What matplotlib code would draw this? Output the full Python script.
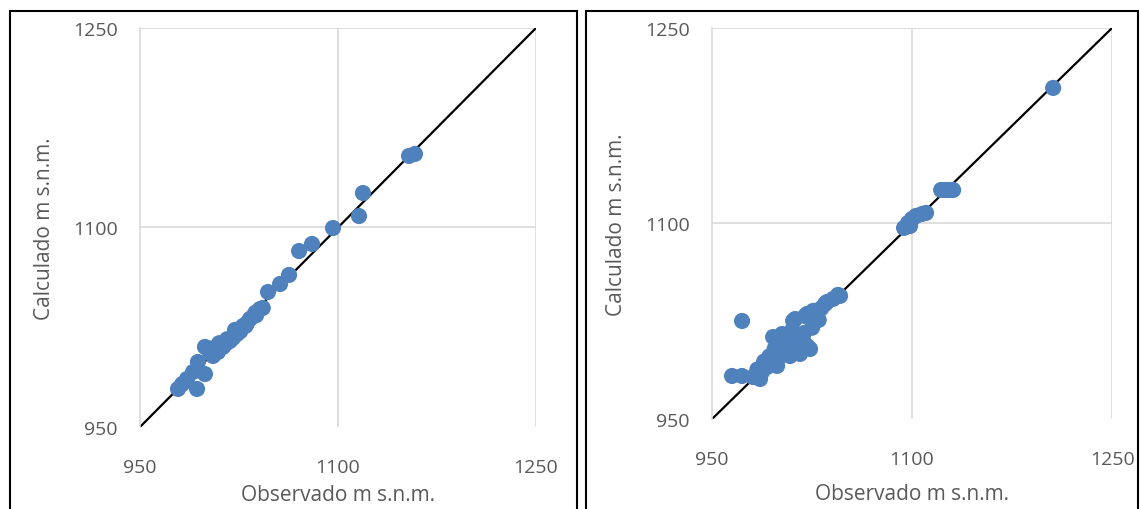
import matplotlib.pyplot as plt
from matplotlib.patches import Rectangle

# left panel: observed vs calculated (m s.n.m.)
obs_a = [978.8, 982.0, 985.6, 990.2, 993.2, 993.9, 999.2, 999.2, 1003.0, 1005.3,
         1007.0, 1009.1, 1011.0, 1012.9, 1015.5, 1018.2, 1020.5, 1023.5, 1026.0,
         1028.0, 1031.0, 1033.3, 1036.0, 1037.5, 1040.9, 1043.0, 1047.0, 1056.1,
         1062.9, 1070.5, 1080.3, 1096.2, 1115.9, 1118.9, 1153.8, 1158.3,
         1004.0, 1010.0, 1016.0, 1022.0, 1030.0, 1038.0]
calc_a = [978.6, 982.3, 986.1, 991.4, 978.6, 998.9, 989.8, 1010.2, 1006.0, 1003.4,
          1008.0, 1006.4, 1011.5, 1010.2, 1013.0, 1014.7, 1017.0, 1019.9, 1022.0,
          1025.9, 1028.0, 1031.2, 1033.5, 1036.0, 1038.7, 1039.5, 1051.5, 1057.5,
          1064.3, 1082.3, 1087.6, 1099.6, 1108.6, 1125.9, 1153.8, 1155.3,
          1009.0, 1013.0, 1016.0, 1023.0, 1026.0, 1034.0]

# right panel
obs_b = [965.0, 972.5, 972.5, 980.8, 986.0, 987.5, 991.3, 995.0, 995.8, 998.8,
         1001.0, 1002.5, 1006.3, 1008.5, 1010.8, 1012.3, 1013.8, 1016.0, 1019.8,
         1021.3, 1021.3, 1023.5, 1025.8, 1028.8, 1034.8, 1036.3, 1040.8, 1044.5,
         1046.0, 1003.0, 1010.0, 1017.0, 1025.0, 1030.0, 993.0, 999.0,
         1005.0, 1008.0, 1012.0, 1015.0, 1018.0, 1004.0, 1009.0, 1014.0,
         1019.0, 997.0, 1001.0, 984.0, 989.0, 1027.0, 1032.0,
         1094.0, 1097.0, 1098.5, 1100.0, 1103.0, 1107.5, 1110.5,
         1121.8, 1124.8, 1127.8, 1130.8, 1205.8]
calc_b = [983.0, 983.0, 1025.2, 982.2, 980.7, 986.1, 989.9, 993.7, 1012.9, 990.7,
          1003.7, 1015.2, 1005.3, 998.3, 1025.2, 1026.7, 1013.7, 999.9, 1029.0,
          1006.0, 1030.6, 1003.7, 1032.9, 1032.9, 1038.3, 1039.8, 1042.1, 1045.2,
          1044.4, 1010.0, 1018.0, 1008.0, 1020.0, 1026.0, 998.0, 995.0,
          1012.0, 1009.0, 1005.0, 1008.0, 1012.0, 1002.0, 1003.0, 1002.0,
          1016.0, 1004.0, 1000.0, 988.0, 994.0, 1029.0, 1035.0,
          1096.6, 1100.4, 1098.1, 1103.5, 1105.8, 1107.3, 1108.1,
          1125.7, 1125.7, 1125.7, 1125.7, 1204.0]

ticks = [950, 1100, 1250]
grey = '#595959'

plt.rcParams['font.family'] = ['Open Sans', 'DejaVu Sans']

fig = plt.figure(figsize=(11.4, 5.1), dpi=100)

# chart borders
fig.patches.append(Rectangle((10 / 1140, -0.1), 567 / 1140, 1.1 - 12 / 510,
                             transform=fig.transFigure, fill=False,
                             edgecolor='black', linewidth=1.5))
fig.patches.append(Rectangle((586 / 1140, -0.1), 552 / 1140, 1.1 - 12 / 510,
                             transform=fig.transFigure, fill=False,
                             edgecolor='black', linewidth=1.5))

ax1 = fig.add_axes([0.1228, 0.1608, 0.3474, 0.7824])
ax2 = fig.add_axes([0.6246, 0.1765, 0.3509, 0.7667])

for ax, x, y, xl_y in [(ax1, obs_a, calc_a, -0.168), (ax2, obs_b, calc_b, -0.190)]:
    ax.set_xlim(950, 1250)
    ax.set_ylim(950, 1250)
    for v in ticks[1:]:
        ax.axvline(v, color='#d9d9d9', linewidth=1.2, zorder=0)
        ax.axhline(v, color='#d9d9d9', linewidth=1.2, zorder=0)
    ax.plot([950, 1250], [950, 1250], color='black', linewidth=1.6, zorder=1)
    ax.scatter(x, y, s=135, color='#4f81bd', edgecolors='none', zorder=2,
               clip_on=False)
    for side in ['top', 'right', 'bottom']:
        ax.spines[side].set_visible(False)
    ax.spines['left'].set_color('#d9d9d9')
    ax.spines['left'].set_linewidth(1.2)
    ax.set_xticks(ticks)
    ax.set_yticks(ticks)
    ax.tick_params(length=0, labelsize=14, labelcolor=grey)
    ax.tick_params(axis='x', pad=22)
    ax.tick_params(axis='y', pad=16)
    ax.set_xlabel('Observado m s.n.m.', fontsize=15, color=grey, va='center')
    ax.xaxis.set_label_coords(0.5, xl_y)
    ax.set_ylabel('Calculado m s.n.m.', fontsize=15, color=grey, labelpad=13)

fig.savefig('out.png', dpi=100)
